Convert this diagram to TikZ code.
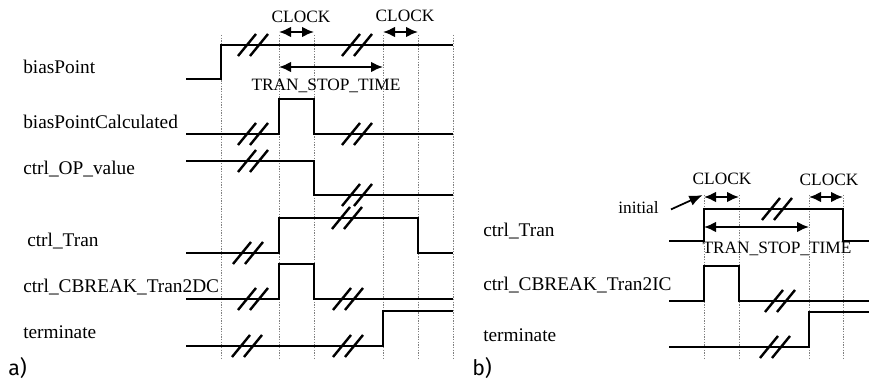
\documentclass[tikz,border=0pt]{standalone}
\usepackage{fontspec}
\setmainfont{Liberation Serif}
\newfontfamily\panelfont{Fira Sans}
\usetikzlibrary{positioning,arrows.meta}

\begin{document}
\begin{tikzpicture}[
    x=0.75pt, y=-0.75pt,
    sig/.style={line width=2.2pt,line join=miter},
    grid/.style={gray,line width=0.6pt,dash pattern=on 1pt off 1pt},
    signame/.style={font=\fontsize{14.5}{16}\selectfont,anchor=base west,inner sep=0pt},
    note/.style={font=\fontsize{13}{14}\selectfont,anchor=base,inner sep=0pt},
    panel/.style={font=\panelfont\fontsize{16}{18}\selectfont,anchor=base west,inner sep=0pt},
    span/.style={{Latex[length=9pt,width=8pt]}-{Latex[length=9pt,width=8pt]},line width=1.5pt},
    point/.style={-{Latex[length=10pt,width=8pt]},line width=1.3pt},
    brk/.pic={\draw[line width=1.8pt] (-15,11) -- (3,-11) (-3,11) -- (15,-11);},
]
    \useasboundingbox (0,0) rectangle (869,384);

    % a) time marks
    \foreach \t/\x in {1/221,2/279,3/314,4/383,5/418,6/453}
        \coordinate (ta\t) at (\x,35);
    \coordinate (abot) at (0,358);
    \foreach \t in {1,...,6}
        \draw[grid] (ta\t) -- (ta\t |- abot);

    % a) signal names
    \node[signame] (bias)    at (23,74)  {biasPoint};
    \node[signame] (biascal) at (23,129) {biasPointCalculated};
    \node[signame] (opval)   at (23,175) {ctrl\_OP\_value};
    \node[signame] (trana)   at (27,247) {ctrl\_Tran};
    \node[signame] (cbrdc)   at (23,293) {ctrl\_CBREAK\_Tran2DC};
    \node[signame] (terma)   at (23,339) {terminate};
    \node[panel] (pa)        at (8,376)  {a)};

    % a) waveforms
    \draw[sig] (186,79) -- (221,79) -- (221,45) -- (453,45);
    \draw[sig] (186,134) -- (279,134) -- (279,99) -- (314,99) -- (314,134) -- (453,134);
    \draw[sig] (186,161) -- (314,161) -- (314,195) -- (453,195);
    \draw[sig] (186,253) -- (279,253) -- (279,218) -- (418,218) -- (418,253) -- (453,253);
    \draw[sig] (186,299) -- (279,299) -- (279,264) -- (314,264) -- (314,299) -- (453,299);
    \draw[sig] (186,346) -- (383,346) -- (383,311) -- (453,311);
    \foreach \x/\y in {253/45,357/45,253/134,357/134,253/161,357/195,
                      248/253,347/218,253/299,348/299,247/346,348/346}
        \pic at (\x,\y) {brk};

    % a) clock and stop time
    \coordinate (clka) at (0,32);
    \coordinate (stopa) at (0,67);
    \draw[span] (ta2 |- clka) -- (ta3 |- clka);
    \draw[span] (ta4 |- clka) -- (ta5 |- clka);
    \draw[span] (ta2 |- stopa) -- (ta4 |- stopa);
    \node[note] (clka1) at (301,23) {CLOCK};
    \node[note] (clka2) at (405,22) {CLOCK};
    \node[note] (stoptxta) at (326,91) {TRAN\_STOP\_TIME};

    % b) time marks
    \foreach \t/\x in {1/704,2/739,3/809,4/843}
        \coordinate (tb\t) at (\x,195);
    \coordinate (bbot) at (0,358);
    \foreach \t in {1,...,4}
        \draw[grid] (tb\t) -- (tb\t |- bbot);

    % b) signal names
    \node[signame] (tranb) at (483,237) {ctrl\_Tran};
    \node[signame] (cbric) at (483,291) {ctrl\_CBREAK\_Tran2IC};
    \node[signame] (termb) at (483,342) {terminate};
    \node[panel] (pb)      at (472,376) {b)};

    % b) waveforms
    \draw[sig] (669,241) -- (704,241) -- (704,209) -- (843,209) -- (843,241) -- (869,241);
    \draw[sig] (669,301) -- (704,301) -- (704,266) -- (739,266) -- (739,301) -- (869,301);
    \draw[sig] (669,347) -- (809,347) -- (809,312) -- (869,312);
    \foreach \x/\y in {777/209,780/301,775/347}
        \pic at (\x,\y) {brk};

    % b) clock, stop time and initial
    \coordinate (clkb) at (0,197);
    \coordinate (stopb) at (0,227);
    \draw[span] (tb1 |- clkb) -- (tb2 |- clkb);
    \draw[span] (tb3 |- clkb) -- (tb4 |- clkb);
    \draw[span] (tb1 |- stopb) -- (tb3 |- stopb);
    \node[note] (clkb1) at (722,185) {CLOCK};
    \node[note] (clkb2) at (829,186) {CLOCK};
    \node[note] (stoptxtb) at (777,254) {TRAN\_STOP\_TIME};
    \node[note,anchor=base west] (init) at (618,214) {initial};
    \draw[point] ([xshift=9pt,yshift=-1pt]init.east) -- ([xshift=-1pt]tb1);
\end{tikzpicture}
\end{document}
